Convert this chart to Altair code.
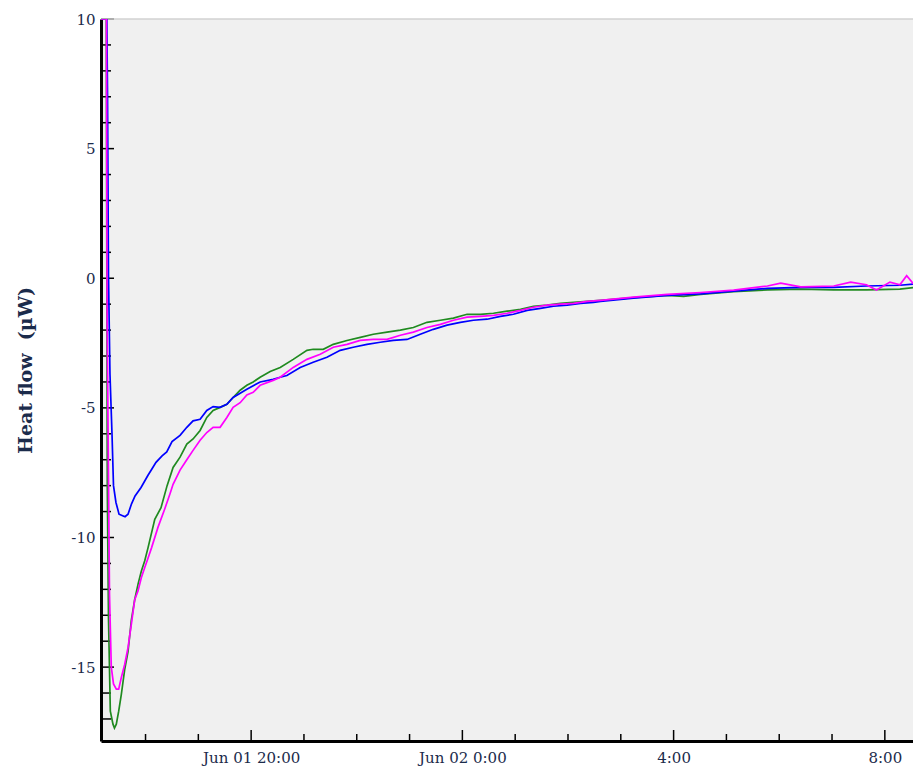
import altair as alt
import pandas as pd

START = pd.Timestamp("2023-06-01 17:00:00")

# elapsed minutes after Jun 01 17:00 and heat flow (µW)
blue_minutes = [9.4, 16.0, 16.8, 17.9, 19.6, 21.9, 23.6, 26.4, 29.9, 33.3, 36.7, 40.1, 44.1, 48.1,
                54.9, 62.8, 67.4, 71.9, 78.8, 84.1, 90.1, 99.2, 106.9, 114.0, 122.0, 129.6, 136.8,
                144.7, 152.4, 159.5, 175.1, 190.2, 205.0, 213.0, 220.6, 235.7, 250.5, 266.1, 281.2,
                296.0, 311.6, 326.7, 341.5, 357.1, 372.2, 387.0, 402.6, 417.7, 432.5, 448.1, 463.2,
                478.0, 493.6, 508.7, 523.5, 539.1, 554.2, 569.0, 577.0, 614.5, 652.8, 690.7, 728.2,
                766.6, 804.5, 842.0, 879.1, 917.1, 941.1]
blue_heat = [10, 10, 7.1, 0.15, -3.7, -6.0, -8.0, -8.65, -9.1, -9.15, -9.2, -9.1, -8.7, -8.4,
             -8.07, -7.6, -7.35, -7.1, -6.85, -6.7, -6.3, -6.06, -5.75, -5.5, -5.44, -5.1, -4.95,
             -4.98, -4.86, -4.6, -4.28, -4.0, -3.9, -3.82, -3.75, -3.44, -3.24, -3.05, -2.78,
             -2.66, -2.55, -2.47, -2.4, -2.36, -2.16, -1.97, -1.81, -1.7, -1.62, -1.58, -1.47,
             -1.39, -1.24, -1.16, -1.08, -1.04, -0.97, -0.93, -0.89, -0.77, -0.66, -0.6, -0.5,
             -0.39, -0.35, -0.35, -0.3, -0.27, -0.2]

green_minutes = [9.4, 15.4, 16.55, 17.9, 20.0, 23.0, 24.7, 26.8, 29.5, 32.5, 36.3, 40.1, 43.85,
                 47.7, 51.5, 55.2, 59.1, 62.8, 70.5, 77.6, 84.5, 91.3, 99.2, 106.9, 114.0, 122.0,
                 129.6, 136.8, 144.7, 152.4, 159.5, 167.5, 175.1, 182.3, 190.2, 201.6, 213.0,
                 227.8, 243.4, 250.5, 261.9, 273.3, 288.9, 304.0, 318.8, 334.4, 349.5, 364.3,
                 379.8, 395.0, 409.8, 425.3, 440.5, 455.3, 470.8, 486.0, 500.8, 516.3, 531.5,
                 546.3, 561.8, 577.0, 614.5, 652.8, 671.4, 690.7, 728.2, 766.6, 804.5, 842.0,
                 879.1, 917.1, 941.1]
green_heat = [10, 10, -8.0, -13.1, -16.7, -17.2, -17.35, -17.2, -16.7, -16.05, -15.1, -14.4, -13.2,
              -12.4, -11.8, -11.3, -10.9, -10.4, -9.3, -8.85, -8.0, -7.3, -6.9, -6.4, -6.2, -5.87,
              -5.37, -5.1, -4.98, -4.86, -4.6, -4.32, -4.13, -4.0, -3.82, -3.6, -3.44,
              -3.13, -2.78, -2.74, -2.74, -2.55, -2.4, -2.28, -2.16, -2.08, -2.0, -1.9,
              -1.7, -1.62, -1.54, -1.39, -1.39, -1.35, -1.27, -1.2, -1.08, -1.04, -0.97,
              -0.93, -0.89, -0.85, -0.75, -0.66, -0.7, -0.62, -0.52, -0.45, -0.42, -0.45,
              -0.45, -0.42, -0.33]

magenta_minutes = [9.4, 15.6, 16.4, 17.9, 19.05, 21.1, 23.6, 26.8, 29.5, 32.5, 36.3, 40.1, 43.85,
                   47.7, 51.5, 55.2, 59.1, 62.8, 66.8, 74.2, 81.8, 87.9, 91.3, 99.2, 106.9, 114.0,
                   122.0, 129.6, 136.8, 144.7, 152.4, 159.5, 167.5, 175.1, 182.3, 190.2, 205.0,
                   213.0, 227.8, 243.4, 258.5, 273.3, 288.9, 304.0, 318.8, 334.4, 349.5, 364.3,
                   379.8, 395.0, 409.8, 425.3, 440.5, 455.3, 470.8, 486.0, 500.8, 516.3, 531.5,
                   546.3, 561.8, 577.0, 614.5, 652.8, 690.7, 728.2, 766.6, 781.7, 804.5, 842.0,
                   861.2, 879.1, 890.5, 905.8, 917.1, 924.8, 932.0, 941.1]
magenta_heat = [10, 10, -1.7, -7.6, -12.2, -15.0, -15.65, -15.85, -15.85, -15.4, -14.9, -14.25,
                -13.35, -12.4, -12.05, -11.55, -11.16, -10.8, -10.4, -9.6, -8.9, -8.3, -7.95,
                -7.4, -7.0, -6.64, -6.25, -5.95, -5.75, -5.75, -5.37, -4.98, -4.8, -4.5, -4.4,
                -4.13, -3.94, -3.82, -3.44, -3.13, -2.93, -2.66, -2.55, -2.4, -2.36, -2.36,
                -2.2, -2.08, -1.9, -1.78, -1.62, -1.5, -1.47, -1.43, -1.35, -1.24, -1.12,
                -1.04, -1.0, -0.97, -0.89, -0.85, -0.73, -0.62, -0.55, -0.46, -0.3, -0.19,
                -0.33, -0.3, -0.15, -0.25, -0.45, -0.15, -0.25, 0.1, -0.2, -0.15]

series_colors = {"green": "#1f8a1f", "blue": "#0000ff", "magenta": "#ff00ff"}

y_ticks = list(range(-17, 11))
y_labels = [-15, -10, -5, 0, 5, 10]
x_tick_hours = list(range(1, 16))          # hours after Jun 01 17:00 (18:00 ... 08:00)
x_major_hours = [3, 7, 11, 15]             # 20:00, 0:00, 4:00, 8:00
x_labels = ["Jun 01 20:00", "Jun 02 0:00", "4:00", "8:00"]

X_START_MIN, X_END_MIN = 9.4, 932.0        # visible time window (minutes after 17:00)
Y_DOMAIN = [-17.85, 10]

W, H = 812, 722
TEXT = "#1b2b4b"
FONT = "DejaVu Serif"


def to_time(minutes):
    return START + pd.to_timedelta(pd.Series(minutes, dtype=float), unit="m")


def dt(ts):
    return alt.DateTime(year=ts.year, month=ts.month, date=ts.day, hours=ts.hour,
                        minutes=ts.minute, seconds=ts.second)


frames = []
for name, mins, vals in [("green", green_minutes, green_heat),
                         ("blue", blue_minutes, blue_heat),
                         ("magenta", magenta_minutes, magenta_heat)]:
    frames.append((name, pd.DataFrame({"t": to_time(mins), "v": vals})))

t0 = START + pd.Timedelta(minutes=X_START_MIN)
t1 = START + pd.Timedelta(minutes=X_END_MIN)
xscale = alt.Scale(domain=[dt(t0), dt(t1)])
yscale = alt.Scale(domain=Y_DOMAIN, nice=False, zero=False)

major_times = [START + pd.Timedelta(hours=h) for h in x_major_hours]
label_expr = " : ".join(
    f"hours(datum.value) == {t.hour} ? '{lab}'" for t, lab in zip(major_times, x_labels)
) + " : ''"

xaxis = alt.Axis(
    values=[dt(t) for t in major_times], ticks=False, grid=False,
    domainColor="black", domainWidth=3, labelFont=FONT, labelFontSize=15, labelColor=TEXT,
    labelPadding=9, labelExpr=label_expr, title=None,
)
yaxis = alt.Axis(
    values=y_labels, ticks=False, grid=False, domainColor="black", domainWidth=3,
    labelFont=FONT, labelFontSize=15, labelColor=TEXT, labelPadding=6,
    labelExpr="'' + datum.value",
    title="Heat flow\u00a0 (µW)", titleFont=FONT, titleFontSize=19, titleFontWeight="bold",
    titleColor=TEXT, titleX=-76, titleY=351, titleAngle=270, titleAlign="center",
    titleBaseline="middle",
)


def X():
    return alt.X("t:T", scale=xscale, axis=xaxis)


def Y():
    return alt.Y("v:Q", scale=yscale, axis=yaxis)


layers = []

ydf = pd.DataFrame({"v": y_ticks, "len": [13 if v % 5 == 0 else 10 for v in y_ticks]})
for L in (10, 13):
    layers.append(alt.Chart(ydf[ydf["len"] == L]).mark_rule(color="black", strokeWidth=1.5)
                  .encode(y=Y(), x=alt.value(0), x2=alt.value(L)))

xdf = pd.DataFrame({"t": [START + pd.Timedelta(hours=h) for h in x_tick_hours],
                    "len": [11 if h in x_major_hours else 7 for h in x_tick_hours]})
for L in (7, 11):
    layers.append(alt.Chart(xdf[xdf["len"] == L]).mark_rule(color="black", strokeWidth=1.5)
                  .encode(x=X(), y=alt.value(H), y2=alt.value(H - L)))

# light top border of the plot area
layers.append(alt.Chart(ydf[ydf["v"] == 10]).mark_rule(color="#d2d2d2", strokeWidth=1.5)
              .encode(y=Y(), x=alt.value(0), x2=alt.value(W)))

for name, df in frames:
    layers.append(alt.Chart(df).mark_line(color=series_colors[name], strokeWidth=1.7, clip=True)
                  .encode(x=X(), y=Y()))

chart = alt.layer(*layers).properties(
    width=W, height=H,
    autosize=alt.AutoSizeParams(type="none"),
    padding={"left": 93, "top": 11, "right": 0, "bottom": 25},
    background="white",
).configure_view(fill="#f0f0f0", strokeWidth=0)

chart.save("out.html", embed_options={"renderer": "svg", "actions": False})
